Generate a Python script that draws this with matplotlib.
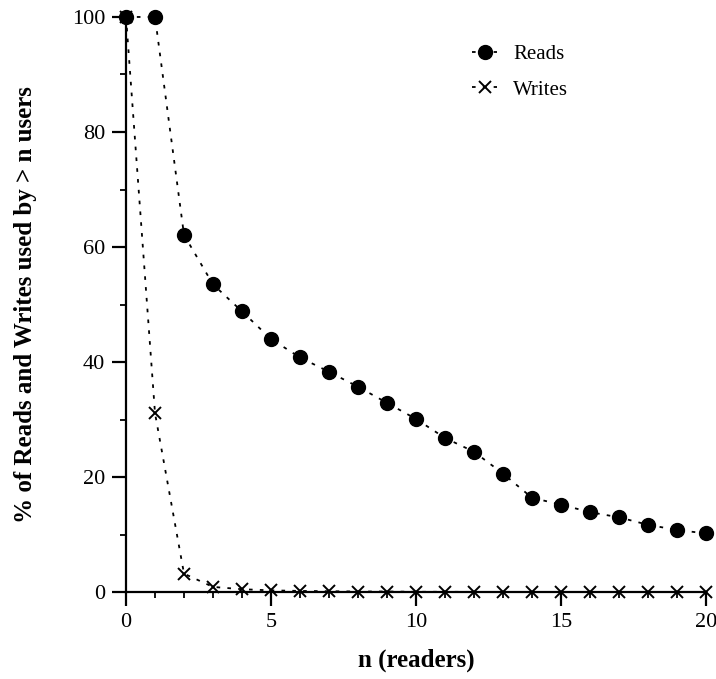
#!/usr/bin/env python

# Import matplotlib for plots:
import matplotlib
matplotlib.use("Agg")
import matplotlib.pyplot as plt
from matplotlib.ticker import MultipleLocator

# Serif font like the original (Times-like):
plt.rcParams['font.family'] = ['Liberation Serif', 'DejaVu Serif']

# Data:
n_readers = list(range(0, 21))
reads = [100, 100, 62.1, 53.5, 48.8, 44.0, 40.8, 38.3, 35.7, 32.9, 30.1,
         26.8, 24.4, 20.6, 16.4, 15.2, 13.9, 13.0, 11.7, 10.8, 10.2]
writes = [100, 31.1, 3.2, 0.9, 0.5, 0.3, 0.2, 0.15, 0.1, 0.1, 0.05,
          0.05, 0.03, 0.02, 0.02, 0.01, 0.01, 0.0, 0.0, 0.0, 0.0]

fig = plt.figure(figsize=(7.16, 6.79), dpi=100)
ax = fig.add_axes([0.176, 0.128, 0.81, 0.847])

ax.plot(n_readers, reads, color='black', linestyle=(0, (2, 4)), linewidth=1.3,
        marker='o', markersize=10, label='Reads', clip_on=False, zorder=3)
ax.plot(n_readers, writes, color='black', linestyle=(0, (2, 4)), linewidth=1.3,
        marker='x', markersize=9, markeredgewidth=1.4, label='Writes',
        clip_on=False, zorder=3)

ax.set_xlim(0, 20)
ax.set_ylim(0, 100)

# Only left and bottom axis lines:
ax.spines['top'].set_visible(False)
ax.spines['right'].set_visible(False)
ax.spines['left'].set_linewidth(1.6)
ax.spines['bottom'].set_linewidth(1.6)

ax.xaxis.set_major_locator(MultipleLocator(5))
ax.xaxis.set_minor_locator(MultipleLocator(1))
ax.yaxis.set_major_locator(MultipleLocator(20))
ax.yaxis.set_minor_locator(MultipleLocator(10))
ax.tick_params(which='major', direction='out', length=10, width=1.6, labelsize=16, pad=5)
ax.tick_params(which='minor', direction='out', length=4.5, width=1.3)

ax.set_xlabel('n (readers)', fontsize=18, fontweight='bold', labelpad=12)
ax.set_ylabel('% of Reads and Writes used by > n users', fontsize=18,
              fontweight='bold', labelpad=25)

# Legend placed in figure coordinates, no frame:
ax.legend(loc='upper left', bbox_to_anchor=(464 / 716, 1 - 36 / 679),
          bbox_transform=fig.transFigure, borderaxespad=0, frameon=False,
          fontsize=15, handlelength=1.2, handletextpad=0.77, labelspacing=0.78)

plt.savefig('out.png', dpi=100)
